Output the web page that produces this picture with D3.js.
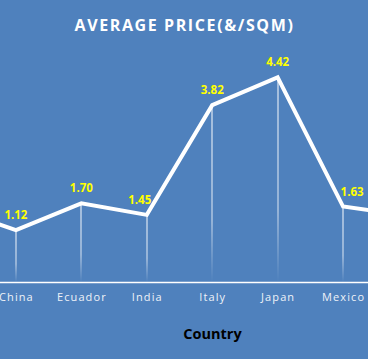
<!DOCTYPE html>
<html><head><meta charset="utf-8">
<script src="https://cdn.jsdelivr.net/npm/d3@7"></script>
<style>html,body{margin:0;padding:0;background:#4F81BD;}svg{display:block;}</style>
</head><body>
<svg id="chart" width="368" height="359"></svg>
<script>
const categories = ["Brazil", "China", "Ecuador", "India", "Italy", "Japan", "Mexico", "Peru"];
const prices = [1.60, 1.12, 1.70, 1.45, 3.82, 4.42, 1.63, 1.43];
const chartTitle = "AVERAGE PRICE(&/SQM)";
const xTitle = "Country";

const W = 368, H = 359;
const svg = d3.select("#chart");
svg.append("rect").attr("width", W).attr("height", H).attr("fill", "#4F81BD");

const defs = svg.append("defs");
const grad = defs.append("linearGradient").attr("id", "fade").attr("x1", 0).attr("y1", 0).attr("x2", 0).attr("y2", 1);
grad.append("stop").attr("offset", "0%").attr("stop-color", "#ffffff").attr("stop-opacity", 1);
grad.append("stop").attr("offset", "65%").attr("stop-color", "#ffffff").attr("stop-opacity", 0.8);
grad.append("stop").attr("offset", "100%").attr("stop-color", "#ffffff").attr("stop-opacity", 0);

const x = d3.scalePoint().domain(categories).range([-49.5, 408.5]);
const y = d3.scaleLinear().domain([0, 5]).range([282, 282 - 5 * 46.3]);

const data = categories.map((c, i) => ({c, v: prices[i]}));
// label nudges so the value labels sit clear of the line (as in the reference)
const labelDx = {India: -7, Mexico: 9};
const visible = d => x(d.c) > -20 && x(d.c) < W + 20;

// drop lines
svg.append("g").selectAll("rect").data(data).join("rect")
  .attr("x", d => Math.round(x(d.c)) - 0.5)
  .attr("y", d => y(d.v))
  .attr("width", 1)
  .attr("height", d => y(0) - y(d.v))
  .attr("fill", "url(#fade)");

// x axis
const xAxis = d3.axisBottom(x).tickSize(0).tickPadding(11);
const gx = svg.append("g").attr("transform", `translate(0,${y(0)})`).call(xAxis);
gx.select(".domain").remove();
gx.selectAll(".tick").filter(d => !visible({c: d})).remove();
gx.append("line").attr("x1", 0).attr("x2", W).attr("y1", 0.5).attr("y2", 0.5)
  .attr("stroke", "#ffffff").attr("stroke-width", 1.5);
gx.selectAll(".tick text")
  .attr("fill", "#EEF2F8")
  .attr("font-family", "'Open Sans', sans-serif")
  .attr("font-size", 11)
  .attr("letter-spacing", 1.1);

// line
svg.append("path").datum(data)
  .attr("d", d3.line().x(d => x(d.c)).y(d => y(d.v)))
  .attr("fill", "none")
  .attr("stroke", "#ffffff")
  .attr("stroke-width", 4)
  .attr("stroke-linejoin", "miter");

// labels
svg.append("g").selectAll("text").data(data.filter(visible)).join("text")
  .attr("x", d => x(d.c) + (labelDx[d.c] || 0))
  .attr("y", d => y(d.v) - 11)
  .attr("text-anchor", "middle")
  .attr("fill", "#FFFF00")
  .attr("font-family", "'Open Sans', sans-serif")
  .attr("font-weight", "bold")
  .attr("font-size", 11.5)
  .text(d => d.v.toFixed(2));

// title
svg.append("text")
  .attr("x", 184.5).attr("y", 31)
  .attr("text-anchor", "middle")
  .attr("fill", "#ffffff")
  .attr("font-family", "'Open Sans', sans-serif")
  .attr("font-weight", "bold")
  .attr("font-size", 16)
  .attr("letter-spacing", 1.6)
  .text(chartTitle);

// x title
svg.append("text")
  .attr("x", 212.5).attr("y", 339)
  .attr("text-anchor", "middle")
  .attr("fill", "#000000")
  .attr("font-family", "'Open Sans', sans-serif")
  .attr("font-weight", "bold")
  .attr("font-size", 14.5)
  .text(xTitle);
</script>
</body></html>
